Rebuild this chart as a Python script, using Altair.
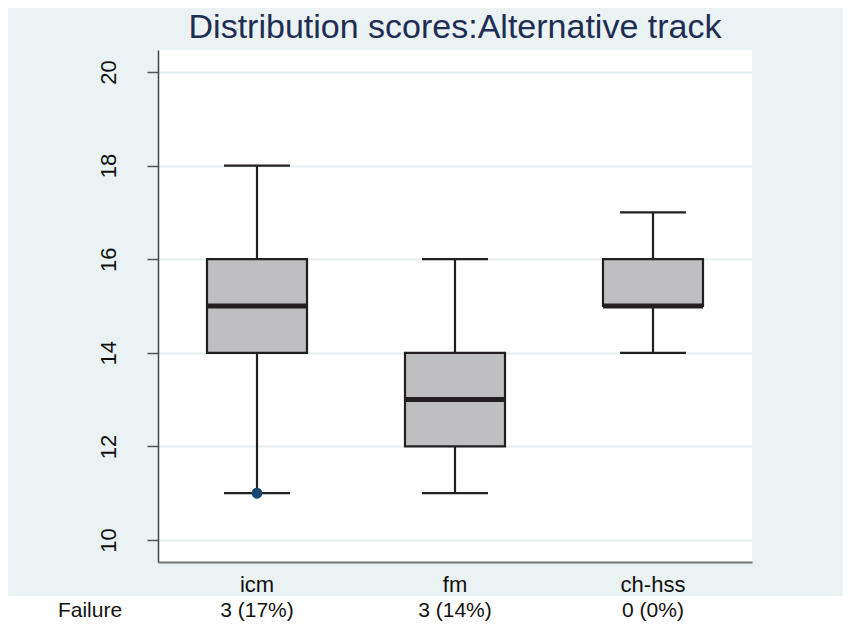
import altair as alt
import pandas as pd

# ---- data ----
categories = ["icm", "fm", "ch-hss"]
lower_whisker = [11, 11, 14]
q1 = [14, 12, 15]
median = [15, 13, 15]
q3 = [16, 14, 16]
upper_whisker = [18, 16, 17]
outlier_cat = ["icm"]
outlier_val = [11]
failure_labels = ["3 (17%)", "3 (14%)", "0 (0%)"]
row_label = "Failure"
title_text = "Distribution scores:Alternative track"
y_ticks = [10, 12, 14, 16, 18, 20]

box_df = pd.DataFrame({
    "cat": categories, "lo": lower_whisker, "q1": q1, "med": median,
    "q3": q3, "hi": upper_whisker, "fail": failure_labels,
})
out_df = pd.DataFrame({"cat": outlier_cat, "val": outlier_val})

FONT = "Liberation Sans, Arial, sans-serif"
BG = "#EAF2F3"
INK = "#231F20"
W, H = 594, 512

xenc = alt.X("cat:N", scale=alt.Scale(domain=categories), sort=categories,
             axis=alt.Axis(title=None, labelAngle=0, ticks=False, tickSize=0,
                           labelPadding=29, labelBaseline="alphabetic",
                           labelFontSize=22, labelFont=FONT, labelColor="#111",
                           domainColor="#777", domainWidth=2, grid=False))
yscale = alt.Scale(domain=[9.53, 20.47], nice=False, zero=False)
yaxis = alt.Axis(title=None, values=y_ticks, labelAngle=270, labelAlign="center",
                 labelBaseline="alphabetic", labelPadding=32, tickSize=11,
                 tickColor="#555", tickWidth=1.5, labelFontSize=22, labelFont=FONT,
                 labelColor="#111", domainColor="#444", domainWidth=1.5,
                 grid=True, gridColor="#E4EDEF", gridWidth=2)

base = alt.Chart(box_df)

# white strip behind the "Failure" row
strip = base.mark_rect(color="white", clip=False).encode(
    x=alt.value(-160), x2=alt.value(W + 100),
    y=alt.value(546), y2=alt.value(600))

whisk_lo = base.mark_rule(color=INK, strokeWidth=2.2).encode(
    x=xenc, y=alt.Y("lo:Q", scale=yscale, axis=yaxis), y2="q1:Q")
whisk_hi = base.mark_rule(color=INK, strokeWidth=2.2).encode(
    x=xenc, y=alt.Y("q3:Q", scale=yscale, axis=yaxis), y2="hi:Q")
cap_lo = base.mark_tick(color=INK, size=66, thickness=2.2, orient="horizontal",
                        opacity=1).encode(
    x=xenc, y=alt.Y("lo:Q", scale=yscale, axis=yaxis))
cap_hi = base.mark_tick(color=INK, size=66, thickness=2.2, orient="horizontal",
                        opacity=1).encode(
    x=xenc, y=alt.Y("hi:Q", scale=yscale, axis=yaxis))
box = base.mark_bar(size=100, fill="#BFBFC1", stroke=INK, strokeWidth=2.2,
                    opacity=1).encode(
    x=xenc, y=alt.Y("q1:Q", scale=yscale, axis=yaxis), y2="q3:Q")
med = base.mark_tick(color=INK, size=100, thickness=5, orient="horizontal",
                     opacity=1).encode(
    x=xenc, y=alt.Y("med:Q", scale=yscale, axis=yaxis))
outl = alt.Chart(out_df).mark_circle(size=120, color="#1A476F", opacity=1).encode(
    x=alt.X("cat:N", scale=alt.Scale(domain=categories)),
    y=alt.Y("val:Q", scale=yscale))

fail_txt = base.mark_text(fontSize=21, font=FONT, color="#111", baseline="alphabetic").encode(
    x=xenc, y=alt.value(567), text="fail:N")
row_df = pd.DataFrame({"lab": [row_label]})
row_txt = alt.Chart(row_df).mark_text(fontSize=21, font=FONT, color="#111",
                                      baseline="alphabetic").encode(
    x=alt.value(-68), y=alt.value(567), text="lab:N")

chart = alt.layer(strip, whisk_lo, whisk_hi, cap_lo, cap_hi, box, med, outl,
                  fail_txt, row_txt).properties(
    width=W, height=H,
    title=alt.TitleParams(title_text, fontSize=34, font=FONT, color="#1E2D53",
                          fontWeight="normal", anchor="middle", baseline="alphabetic",
                          offset=12, dy=34),
    autosize=alt.AutoSizeParams(type="none"),
    padding={"left": 150, "top": 42, "right": 91, "bottom": 60},
    background=BG,
).configure_view(fill="white", stroke=None)

chart.save("out.html", embed_options={"renderer": "svg", "actions": False})
